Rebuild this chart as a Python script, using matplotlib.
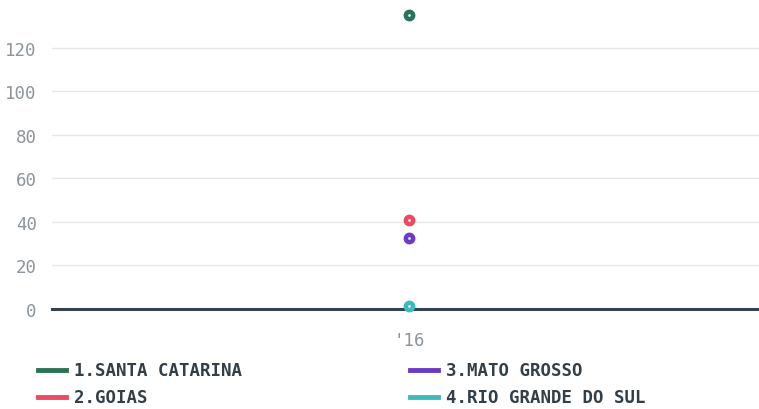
import matplotlib
matplotlib.use("Agg")
import matplotlib.pyplot as plt
from matplotlib.lines import Line2D

categories = ["'16"]
series_names = ["1.SANTA CATARINA", "2.GOIAS", "3.MATO GROSSO", "4.RIO GRANDE DO SUL"]
series_values = [[135], [41], [32.5], [1.5]]
colors = ["#2a7356", "#ea4a63", "#6a3cc6", "#3dbbbb"]
yticks = [0, 20, 40, 60, 80, 100, 120]

plt.rcParams['font.family'] = ['DejaVu Sans Mono']

W, H = 759, 410
fig = plt.figure(figsize=(W / 100, H / 100), dpi=100)
ax = fig.add_axes([52 / W, 100 / H, 1 - 52 / W, 310 / H])

x = list(range(len(categories)))
for name, vals, c in zip(series_names, series_values, colors):
    ax.plot(x, vals, 'o', color=c, markersize=7.5, clip_on=False, zorder=5)
    ax.plot(x, vals, 'o', color='white', markersize=1, alpha=0.8, clip_on=False, zorder=6)

ax.set_xlim(-0.5, len(categories) - 0.5 - 0.01)
ax.set_ylim(0, 142.5)
ax.set_xticks(x)
ax.set_xticklabels(categories)
ax.set_yticks(yticks)
ax.grid(axis='y', color='#e6e6e6', linewidth=1)
ax.set_axisbelow(True)
for s in ['top', 'right', 'left']:
    ax.spines[s].set_visible(False)
ax.spines['bottom'].set_color('#37424a')
ax.spines['bottom'].set_linewidth(2.2)
ax.tick_params(axis='both', length=0, labelsize=12.5, labelcolor='#8c959b')
ax.tick_params(axis='x', pad=16)
ax.tick_params(axis='y', pad=11)

# legend drawn by hand: two columns
col_x = [38, 410]
row_y = [371, 398]
for i, (name, c) in enumerate(zip(series_names, colors)):
    cx = col_x[i // 2]
    cy = row_y[i % 2]
    fig.add_artist(Line2D([cx / W, (cx + 28) / W], [1 - cy / H, 1 - cy / H],
                          color=c, linewidth=3.5, transform=fig.transFigure))
    fig.text((cx + 36) / W, 1 - cy / H, name, color='#333f48', fontsize=12.5,
             fontweight='bold', va='center', ha='left')

fig.savefig("out.png", dpi=100)
